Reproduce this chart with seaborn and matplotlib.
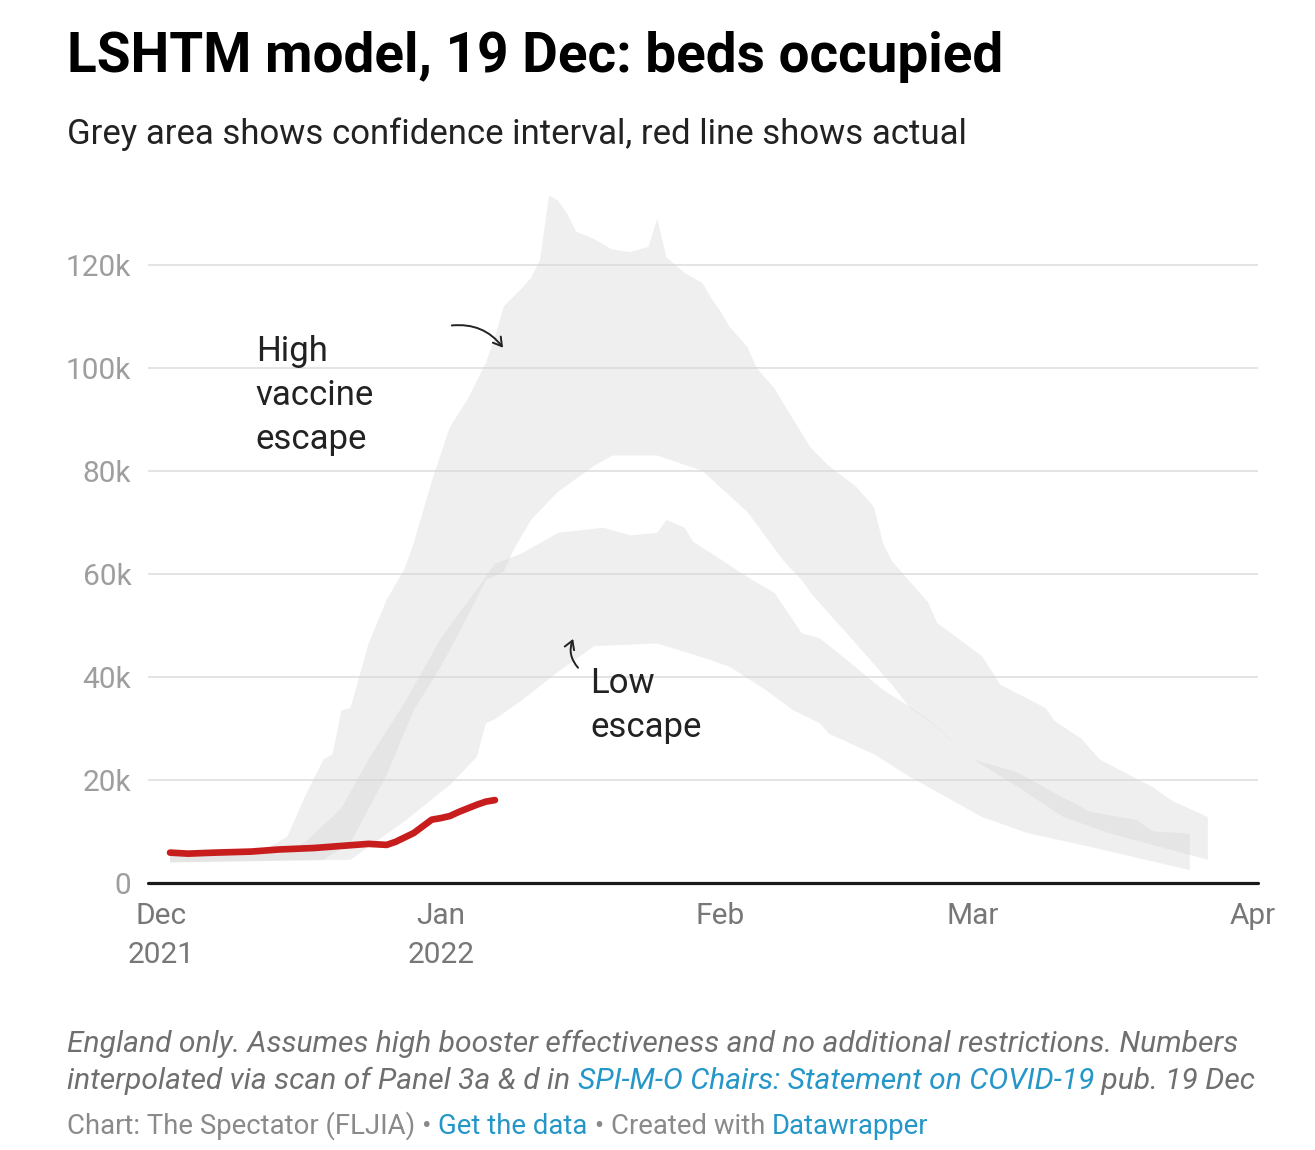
import pandas as pd
import matplotlib
matplotlib.use('Agg')
import matplotlib.pyplot as plt
import seaborn as sns

# beds occupied, thousands
high_upper_dates = ['2021-12-02', '2021-12-12', '2021-12-15', '2021-12-17', '2021-12-19', '2021-12-20',
                    '2021-12-21', '2021-12-22', '2021-12-24', '2021-12-26', '2021-12-27', '2021-12-28',
                    '2021-12-29', '2021-12-31', '2022-01-02', '2022-01-04', '2022-01-06', '2022-01-07',
                    '2022-01-08', '2022-01-10', '2022-01-11', '2022-01-12', '2022-01-13', '2022-01-14',
                    '2022-01-15', '2022-01-16', '2022-01-18', '2022-01-20', '2022-01-22', '2022-01-24',
                    '2022-01-25', '2022-01-26', '2022-01-28', '2022-01-30', '2022-01-31', '2022-02-01',
                    '2022-02-02', '2022-02-04', '2022-02-05', '2022-02-07', '2022-02-08', '2022-02-11',
                    '2022-02-13', '2022-02-16', '2022-02-18', '2022-02-19', '2022-02-20', '2022-02-22',
                    '2022-02-24', '2022-02-25', '2022-03-02', '2022-03-04', '2022-03-09', '2022-03-10',
                    '2022-03-13', '2022-03-15', '2022-03-21', '2022-03-23', '2022-03-27']
high_upper_k = [6.0, 6.0, 9, 17, 24, 25,
                33.5, 34, 46.5, 55, 58, 61,
                66, 78, 88.5, 94, 101, 106,
                112, 115.5, 117.5, 121, 133.5, 132.5,
                130, 126.5, 125, 123, 122.5, 123.5,
                129, 121.5, 118.5, 116.5, 113.5, 111,
                108, 104, 100, 96, 93, 84.5,
                81, 77, 73, 66, 62.5, 58.5,
                54.5, 50.5, 44, 38.5, 34, 31.5,
                28, 24, 18.5, 16, 12.8]

high_lower_dates = ['2021-12-02', '2021-12-19', '2021-12-22', '2021-12-26', '2021-12-29', '2022-01-01',
                    '2022-01-03', '2022-01-06', '2022-01-08', '2022-01-09', '2022-01-11', '2022-01-14',
                    '2022-01-18', '2022-01-20', '2022-01-25', '2022-01-30', '2022-02-04', '2022-02-08',
                    '2022-02-10', '2022-02-11', '2022-02-16', '2022-02-20', '2022-02-22', '2022-02-24',
                    '2022-03-01', '2022-03-06', '2022-03-11', '2022-03-16', '2022-03-20', '2022-03-27']
high_lower_k = [4.0, 4.5, 7.8, 21, 33.5, 42,
                48.5, 58.8, 60.5, 64.5, 70.5, 76,
                81, 83, 83, 80, 72, 62.5,
                58.8, 56.3, 46.5, 38.5, 34, 31.6,
                24, 18.6, 12.8, 9.7, 7.8, 4.5]

low_upper_dates = ['2021-12-02', '2021-12-15', '2021-12-17', '2021-12-21', '2021-12-24', '2021-12-28',
                   '2022-01-01', '2022-01-05', '2022-01-07', '2022-01-10', '2022-01-14', '2022-01-19',
                   '2022-01-22', '2022-01-25', '2022-01-26', '2022-01-28', '2022-01-29', '2022-01-31',
                   '2022-02-04', '2022-02-07', '2022-02-10', '2022-02-12', '2022-02-15', '2022-02-19',
                   '2022-02-22', '2022-02-24', '2022-03-01', '2022-03-06', '2022-03-10', '2022-03-14',
                   '2022-03-19', '2022-03-21', '2022-03-24', '2022-03-25']
low_upper_k = [6, 6, 8, 14.5, 24, 35,
               47.5, 57, 62, 64, 68, 69,
               67.5, 68, 70.5, 69, 66.2, 64,
               59.4, 56.3, 48.5, 47.5, 43.3, 37.5,
               34.2, 31.8, 24, 21.4, 17.5, 13.8,
               12.3, 10, 9.7, 9.5]

low_lower_dates = ['2021-12-02', '2021-12-22', '2021-12-28', '2022-01-02', '2022-01-05', '2022-01-06',
                   '2022-01-07', '2022-01-10', '2022-01-14', '2022-01-18', '2022-01-25', '2022-01-30',
                   '2022-02-02', '2022-02-06', '2022-02-09', '2022-02-12', '2022-02-13', '2022-02-18',
                   '2022-02-22', '2022-03-02', '2022-03-07', '2022-03-14', '2022-03-25']
low_lower_k = [4, 4.5, 12, 19, 24.5, 31,
               31.8, 35.5, 41, 46, 46.5, 43.8,
               42, 37.5, 33.6, 31, 29, 25,
               20.6, 12.8, 9.7, 7, 2.5]

actual_dates = ['2021-12-02', '2021-12-04', '2021-12-07', '2021-12-11', '2021-12-14', '2021-12-18',
                '2021-12-21', '2021-12-24', '2021-12-25', '2021-12-26', '2021-12-27', '2021-12-29',
                '2021-12-31', '2022-01-01', '2022-01-02', '2022-01-03', '2022-01-04', '2022-01-05',
                '2022-01-06', '2022-01-07']
actual_k = [5.9, 5.7, 5.9, 6.1, 6.5, 6.8,
            7.2, 7.6, 7.5, 7.4, 8.0, 9.7,
            12.3, 12.6, 13.0, 13.8, 14.5, 15.2,
            15.8, 16.1]

tick_dates = ['2021-12-01', '2022-01-01', '2022-02-01', '2022-03-01', '2022-04-01']
tick_labels = ['Dec\n2021', 'Jan\n2022', 'Feb', 'Mar', 'Apr']
y_ticks = [0, 20, 40, 60, 80, 100, 120]
y_labels = ['0', '20k', '40k', '60k', '80k', '100k', '120k']

sns.set_theme(style='white')
plt.rcParams['font.family'] = ['Roboto', 'DejaVu Sans']

fig = plt.figure(figsize=(13.15, 11.5), dpi=100)
ax = fig.add_axes([148 / 1315, 1 - 883 / 1150, 1110 / 1315, 693 / 1150])

band_color = '#d5d5d5'
for up_d, up_v, lo_d, lo_v in [(high_upper_dates, high_upper_k, high_lower_dates, high_lower_k),
                               (low_upper_dates, low_upper_k, low_lower_dates, low_lower_k)]:
    xs = list(pd.to_datetime(up_d)) + list(pd.to_datetime(lo_d))[::-1]
    ys = list(up_v) + list(lo_v)[::-1]
    ax.fill(xs, ys, color=band_color, alpha=0.37, lw=0, zorder=1)

actual = pd.DataFrame({'date': pd.to_datetime(actual_dates), 'beds': actual_k})
sns.lineplot(data=actual, x='date', y='beds', ax=ax, color='#c71e1d', lw=4.8,
             solid_capstyle='round', zorder=4)

ax.axhline(0, color='#1a1a1a', lw=2.3, zorder=3, clip_on=False)

x0 = pd.Timestamp('2021-12-01') - pd.Timedelta(hours=34.6)
x1 = pd.Timestamp('2022-04-01') + pd.Timedelta(hours=13.3)
ax.set_xlim(x0, x1)
ax.set_ylim(0, 134.56)

ax.yaxis.grid(True, color='#e2e2e2', lw=1.3)
ax.set_axisbelow(True)
ax.set_yticks(y_ticks)
ax.set_yticklabels(y_labels, fontsize=21.5, color='#9e9e9e')
ax.set_xticks(pd.to_datetime(tick_dates))
ax.set_xticklabels(tick_labels, fontsize=21.5, color='#777777')
for lab in ax.get_xticklabels():
    lab.set_linespacing(1.48)
ax.tick_params(axis='y', length=0, pad=12)
ax.tick_params(axis='x', length=0, pad=14)
ax.set_xlabel('')
ax.set_ylabel('')
for s in ax.spines.values():
    s.set_visible(False)

# annotations
ax.text(pd.Timestamp('2021-12-11 12:00'), 106.4, 'High\nvaccine\nescape', fontsize=25,
        color='#222222', va='top', ha='left', linespacing=1.42)
ax.text(pd.Timestamp('2022-01-17 14:00'), 42.0, 'Low\nescape', fontsize=25,
        color='#222222', va='top', ha='left', linespacing=1.42)
ax.annotate('', xy=(pd.Timestamp('2022-01-08 02:00'), 103.5),
            xytext=(pd.Timestamp('2022-01-01 22:00'), 108.2),
            arrowprops=dict(arrowstyle='->,head_length=0.5,head_width=0.3', color='#222222',
                            lw=1.4, connectionstyle='arc3,rad=-0.3'))
ax.annotate('', xy=(pd.Timestamp('2022-01-15 19:00'), 47.9),
            xytext=(pd.Timestamp('2022-01-16 10:00'), 41.4),
            arrowprops=dict(arrowstyle='->,head_length=0.5,head_width=0.3', color='#222222',
                            lw=1.4, connectionstyle='arc3,rad=-0.35'))

# titles
fig.text(67 / 1315, 1 - 72 / 1150, 'LSHTM model, 19 Dec: beds occupied', fontsize=39.5,
         weight='bold', color='#000000', va='baseline')
fig.text(67 / 1315, 1 - 144 / 1150, 'Grey area shows confidence interval, red line shows actual',
         fontsize=25, color='#222222', va='baseline')

# footer with coloured links
grey = '#6f6f6f'
grey2 = '#8a8a8a'
blue = '#2596c8'
fig.canvas.draw()
renderer = fig.canvas.get_renderer()


def rich_line(y, parts, **kw):
    x = 67 / 1315
    for s, c in parts:
        t = fig.text(x, 1 - y / 1150, s, color=c, va='baseline', **kw)
        bb = t.get_window_extent(renderer=renderer)
        x = bb.x1 / fig.bbox.width


rich_line(1052, [('England only. Assumes high booster effectiveness and no additional restrictions. Numbers', grey)],
          fontsize=21.6, style='italic')
rich_line(1089, [('interpolated via scan of Panel 3a & d in ', grey),
                 ('SPI-M-O Chairs: Statement on COVID-19', blue),
                 (' pub. 19 Dec', grey)], fontsize=21.6, style='italic')
rich_line(1134, [('Chart: The Spectator (FLJIA) \u2022 ', grey2), ('Get the data', blue),
                 (' \u2022 Created with ', grey2), ('Datawrapper', blue)], fontsize=19.8)

fig.savefig('out.png', dpi=100)
